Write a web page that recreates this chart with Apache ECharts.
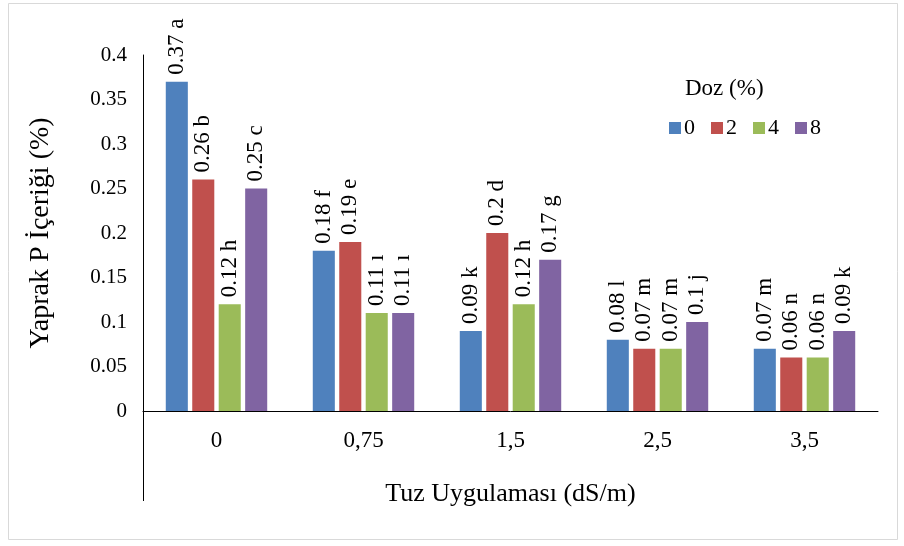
<!DOCTYPE html>
<html><head><meta charset="utf-8">
<script src="https://cdn.jsdelivr.net/npm/echarts@6/dist/echarts.min.js"></script>
<style>html,body{margin:0;padding:0;background:#fff}#c{width:904px;height:546px}</style>
</head><body><div id="c"></div>
<script>
const categories = ['0', '0,75', '1,5', '2,5', '3,5'];
const seriesNames = ['0', '2', '4', '8'];
const dose0 = [0.37, 0.18, 0.09, 0.08, 0.07];
const dose2 = [0.26, 0.19, 0.20, 0.07, 0.06];
const dose4 = [0.12, 0.11, 0.12, 0.07, 0.06];
const dose8 = [0.25, 0.11, 0.17, 0.10, 0.09];
const letters0 = ['a', 'f', 'k', 'l', 'm'];
const letters2 = ['b', 'e', 'd', 'm', 'n'];
const letters4 = ['h', 'ı', 'h', 'm', 'n'];
const letters8 = ['c', 'ı', 'g', 'j', 'k'];
const yTicks = [0, 0.05, 0.1, 0.15, 0.2, 0.25, 0.3, 0.35, 0.4];

const colors = ['#4F81BD', '#C0504D', '#9BBB59', '#8064A2'];
const values = [dose0, dose2, dose4, dose8];
const letters = [letters0, letters2, letters4, letters8];
const FONT = '"Liberation Serif", "Times New Roman", serif';

const chart = echarts.init(document.getElementById('c'));
const series = values.map((vals, i) => ({
  name: seriesNames[i],
  type: 'bar',
  data: vals,
  barGap: '20%',
  barCategoryGap: '31%',
  itemStyle: { color: colors[i] },
  label: {
    show: true,
    position: 'top',
    rotate: 90,
    align: 'left',
    verticalAlign: 'middle',
    distance: 7,
    color: '#000',
    fontFamily: FONT,
    fontSize: 23,
    formatter: p => String(vals[p.dataIndex]) + ' ' + letters[i][p.dataIndex]
  }
}));

chart.setOption({
  animation: false,
  backgroundColor: '#fff',
  grid: { left: 143, top: 55, width: 735, height: 356, containLabel: false },
  legend: {
    data: seriesNames,
    left: 664, top: 112,
    itemWidth: 12, itemHeight: 12, itemGap: 16,
    icon: 'rect',
    textStyle: { fontFamily: FONT, fontSize: 22, color: '#000', padding: [0, 0, 0, -2] }
  },
  xAxis: {
    type: 'category',
    data: categories,
    axisLine: { show: true, lineStyle: { color: '#000', width: 1 } },
    axisTick: { show: false },
    axisLabel: { fontFamily: FONT, fontSize: 23, color: '#000', margin: 18 },
    name: 'Tuz Uygulaması (dS/m)',
    nameLocation: 'middle',
    nameGap: 70,
    nameTextStyle: { fontFamily: FONT, fontSize: 26, color: '#000' }
  },
  yAxis: {
    type: 'value',
    min: 0, max: 0.4, interval: 0.05,
    axisLine: { show: true, lineStyle: { color: '#000', width: 1 } },
    axisTick: { show: false },
    splitLine: { show: false },
    axisLabel: {
      fontFamily: FONT, fontSize: 21, color: '#000', margin: 16,
      formatter: v => { const t = yTicks.find(x => Math.abs(x - v) < 1e-9); return String(t !== undefined ? t : v); }
    },
    name: 'Yaprak P İçeriği (%)',
    nameLocation: 'middle',
    nameGap: 88,
    nameTextStyle: { fontFamily: FONT, fontSize: 28, color: '#000' }
  },
  graphic: [
    { type: 'rect', shape: { x: 8.5, y: 3.5, width: 889, height: 536 }, style: { fill: 'none', stroke: '#D9D9D9', lineWidth: 1 }, silent: true },
    { type: 'line', shape: { x1: 143.5, y1: 411, x2: 143.5, y2: 501 }, style: { stroke: '#000', lineWidth: 1 }, silent: true },
    { type: 'text', left: 685, top: 77, style: { text: 'Doz (%)', font: '23px ' + FONT, fill: '#000' } }
  ],
  series: series
});
</script></body></html>
